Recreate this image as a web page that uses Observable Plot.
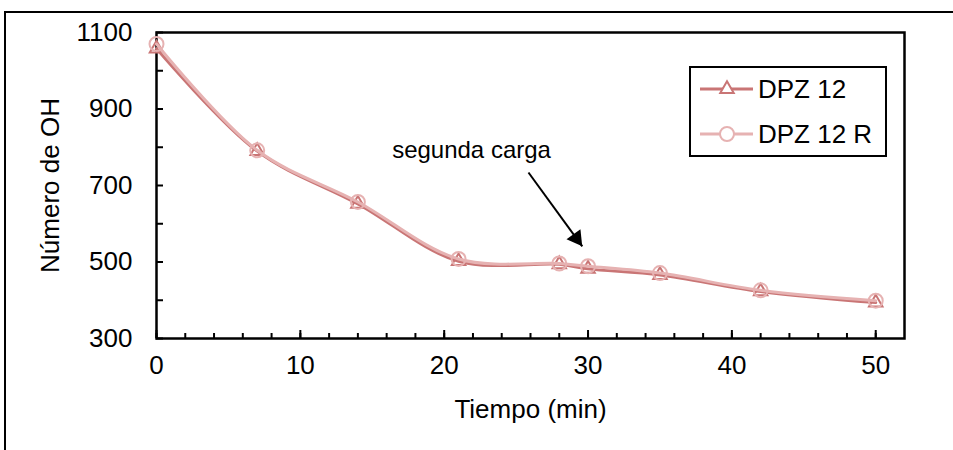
<!DOCTYPE html>
<html><head><meta charset="utf-8">
<script src="https://cdn.jsdelivr.net/npm/d3@7"></script>
<script src="https://cdn.jsdelivr.net/npm/@observablehq/plot@0.6"></script>
<style>
body{margin:0;background:#fff;font-family:"Liberation Sans",Arial,sans-serif;}
#wrap{position:relative;width:953px;height:450px;overflow:hidden;background:#fff;}
#border{position:absolute;left:4px;top:11px;width:1000px;height:1000px;border:2px solid #000;box-sizing:border-box;}
#chart{position:absolute;left:0;top:0;}
#legend{position:absolute;left:689px;top:66px;width:198px;height:91px;border:2px solid #000;box-sizing:border-box;background:#fff;}
#legend svg{position:absolute;left:-2px;top:-2px;}
</style></head><body>
<div id="wrap"><div id="border"></div><div id="chart"></div><div id="legend"></div></div>
<script>
// ---- data ----
const tiempo = [0, 7, 14, 21, 28, 30, 35, 42, 50];
const dpz12 = [1058, 790, 652, 502, 494, 482, 466, 423, 394];
const dpz12R = [1070, 792, 657, 508, 496, 489, 471, 426, 399];
const seriesNames = ["DPZ 12", "DPZ 12 R"];
const seriesColors = ["#c97575", "#e6b2b2"];
const xMajorTicks = [0, 10, 20, 30, 40, 50];
const xMinorTicks = [0, 2, 4, 6, 8, 10, 12, 14, 16, 18, 20, 22, 24, 26, 28, 30, 32, 34, 36, 38, 40, 42, 44, 46, 48, 50];
const yTicks = [300, 400, 500, 600, 700, 800, 900, 1000, 1100];
const yLabelTicks = [300, 500, 700, 900, 1100];
const annotationLabel = ["segunda carga"];
const annotationAt = [21.9, 791];
const arrowTail = [25.86, 734];
const arrowTip = [29.6, 541];

const s1 = tiempo.map((t, i) => ({t, v: dpz12[i], s: seriesNames[0]}));
const s2 = tiempo.map((t, i) => ({t, v: dpz12R[i], s: seriesNames[1]}));
const FONT = "Liberation Sans, Arial, sans-serif";

const plot = Plot.plot({
  width: 953, height: 450,
  marginLeft: 156, marginRight: 49, marginTop: 32, marginBottom: 112,
  style: {fontFamily: FONT, fontSize: "26px", background: "transparent", color: "#000"},
  x: {domain: [0, 52]},
  y: {domain: [300, 1100]},
  marks: [
    Plot.axisX(xMinorTicks, {tickSize: -5, fill: "none", stroke: "#000", strokeWidth: 2, label: null}),
    Plot.axisX(xMajorTicks, {tickSize: -8, fill: "none", stroke: "#000", strokeWidth: 2, label: null}),
    Plot.axisX(xMajorTicks, {tickSize: 0, tickPadding: 17, fontSize: 26, tickFormat: d => String(d), label: "Tiempo (min)", labelAnchor: "center", labelOffset: 79, labelArrow: "none"}),
    Plot.axisY(yTicks, {tickSize: -7, fill: "none", stroke: "#000", strokeWidth: 2, label: null}),
    Plot.axisY(yLabelTicks, {tickSize: 0, tickPadding: 24, fontSize: 26, tickFormat: d => String(d), label: "Número de OH", labelAnchor: "center", labelOffset: 116, labelArrow: "none"}),
    Plot.frame({stroke: "#000", strokeWidth: 2.5}),
    Plot.line(s1, {x: "t", y: "v", stroke: seriesColors[0], strokeWidth: 3, curve: "catmull-rom"}),
    Plot.dot(s1, {x: "t", y: "v", symbol: "triangle", r: 5, stroke: seriesColors[0], strokeWidth: 2, fill: "none"}),
    Plot.line(s2, {x: "t", y: "v", stroke: seriesColors[1], strokeWidth: 3, curve: "catmull-rom"}),
    Plot.dot(s2, {x: "t", y: "v", symbol: "circle", r: 7, stroke: seriesColors[1], strokeWidth: 2, fill: "none"}),
    Plot.text(annotationLabel, {x: annotationAt[0], y: annotationAt[1], text: d => d, fontSize: 24, fill: "#000"}),
    Plot.link([0], {x1: arrowTail[0], y1: arrowTail[1], x2: arrowTip[0], y2: arrowTip[1], stroke: "#000", strokeWidth: 2}),
    Plot.dot([0], {x: arrowTip[0], y: arrowTip[1], symbol: "triangle", r: 6.4, fill: "#000", stroke: "none", rotate: 144, dx: -5.9, dy: -8.1})
  ]
});
document.getElementById("chart").appendChild(plot);

// legend
const lg = d3.select("#legend").append("svg").attr("width", 198).attr("height", 91);
const rows = [23, 68];
seriesNames.forEach((name, i) => {
  const y = rows[i];
  lg.append("line").attr("x1", 11).attr("x2", 64).attr("y1", y).attr("y2", y)
    .attr("stroke", seriesColors[i]).attr("stroke-width", 3);
  if (i === 0) {
    lg.append("path").attr("d", d3.symbol(d3.symbolTriangle, 25 * Math.PI)()).attr("transform", `translate(38,${y})`)
      .attr("fill", "#fff").attr("stroke", seriesColors[i]).attr("stroke-width", 2);
  } else {
    lg.append("circle").attr("cx", 38).attr("cy", y).attr("r", 7)
      .attr("fill", "#fff").attr("stroke", seriesColors[i]).attr("stroke-width", 2);
  }
  lg.append("text").attr("x", 69).attr("y", y).attr("dy", "0.35em")
    .attr("font-family", FONT).attr("font-size", 26).attr("fill", "#000").text(name);
});
</script>
</body></html>
